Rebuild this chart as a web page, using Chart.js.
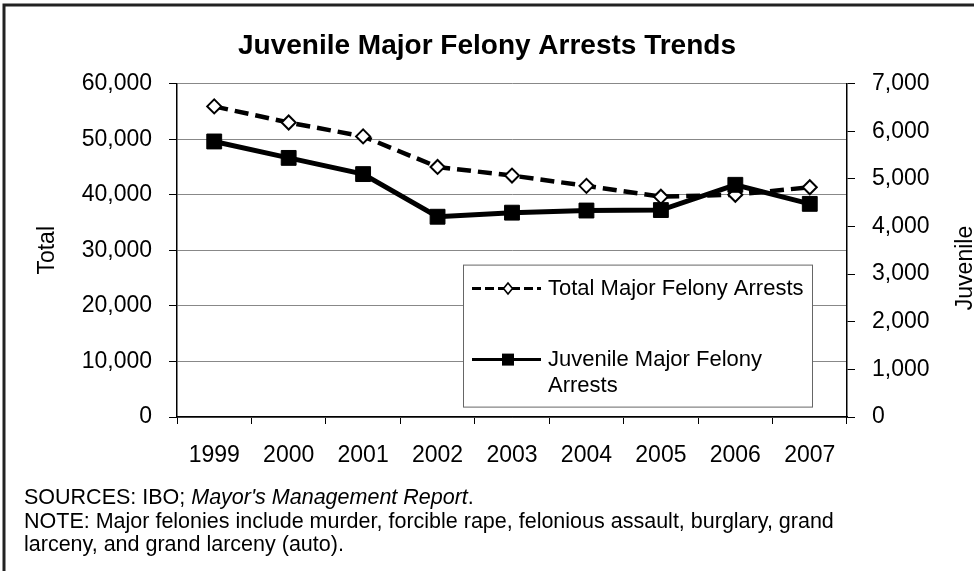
<!DOCTYPE html>
<html>
<head>
<meta charset="utf-8">
<script src="https://cdn.jsdelivr.net/npm/chart.js@4.4.0/dist/chart.umd.min.js"></script>
<style>
  html, body { margin: 0; padding: 0; background: #fff; }
  #wrap { width: 974px; height: 571px; position: relative; }
</style>
</head>
<body>
<div id="wrap"><canvas id="arrestsChart"></canvas></div>
<script>
const years = ["1999", "2000", "2001", "2002", "2003", "2004", "2005", "2006", "2007"];
const totalArrests = [55900, 53000, 50500, 45000, 43450, 41600, 39650, 40000, 41350];
const juvenileArrests = [5785, 5440, 5100, 4205, 4290, 4335, 4345, 4875, 4475];

const chartTitle = "Juvenile Major Felony Arrests Trends";
const totalLabel = "Total Major Felony Arrests";
const juvenileLabel = "Juvenile Major Felony Arrests";
const leftTitle = "Total";
const rightTitle = "Juvenile";
const sourceLine = ["SOURCES: IBO; ", "Mayor's Management Report", "."];
const noteLines = [
  "NOTE: Major felonies include murder, forcible rape, felonious assault, burglary, grand",
  "larceny, and grand larceny (auto).",
];

const FONT = "'Liberation Sans', Arial, sans-serif";
Chart.defaults.font.family = FONT;
Chart.defaults.color = "#000";

const fmt = (v) => Number(v).toLocaleString("en-US");

// white page + the frame lines on the top and left edge
const pageFrame = {
  id: "pageFrame",
  beforeDraw(chart) {
    const ctx = chart.ctx;
    ctx.save();
    ctx.fillStyle = "#fff";
    ctx.fillRect(0, 0, chart.width, chart.height);
    ctx.strokeStyle = "#222";
    ctx.lineWidth = 3;
    ctx.beginPath();
    ctx.moveTo(4, chart.height);
    ctx.lineTo(4, 5);
    ctx.lineTo(chart.width, 5);
    ctx.stroke();
    ctx.restore();
  },
};

function wrapWords(ctx, text, maxWidth) {
  const words = text.split(" ");
  const lines = [];
  let cur = "";
  words.forEach((w) => {
    const test = cur ? cur + " " + w : w;
    if (cur && ctx.measureText(test).width > maxWidth) {
      lines.push(cur);
      cur = w;
    } else {
      cur = test;
    }
  });
  if (cur) lines.push(cur);
  return lines;
}

// legend box sitting inside the plot, like the Excel original
const boxLegend = {
  id: "boxLegend",
  afterDraw(chart) {
    const ctx = chart.ctx;
    const area = chart.chartArea;
    const bx = area.left + 286, by = area.top + 181, bw = 349, bh = 142;
    ctx.save();
    ctx.fillStyle = "#fff";
    ctx.fillRect(bx, by, bw, bh);
    ctx.strokeStyle = "#666";
    ctx.lineWidth = 1;
    ctx.strokeRect(bx + 0.5, by + 0.5, bw, bh);

    const total = chart.data.datasets.find((d) => d.label === totalLabel);
    const juv = chart.data.datasets.find((d) => d.label === juvenileLabel);
    const rows = [
      { ds: total, y: by + 24, dash: [9, 4] },
      { ds: juv, y: by + 95, dash: [] },
    ];
    ctx.font = "22px " + FONT;
    rows.forEach((r) => {
      const lx = bx + 9, rx = bx + 78, mx = bx + 45;
      ctx.strokeStyle = r.ds.borderColor;
      ctx.lineWidth = 3;
      ctx.setLineDash(r.dash);
      ctx.beginPath();
      ctx.moveTo(lx, r.y);
      ctx.lineTo(rx, r.y);
      ctx.stroke();
      ctx.setLineDash([]);
      ctx.fillStyle = r.ds.pointBackgroundColor;
      ctx.strokeStyle = r.ds.pointBorderColor;
      if (r.ds.pointStyle === "rectRot") {
        ctx.lineWidth = 1.6;
        ctx.beginPath();
        ctx.moveTo(mx, r.y - 5.5);
        ctx.lineTo(mx + 4.5, r.y);
        ctx.lineTo(mx, r.y + 5.5);
        ctx.lineTo(mx - 4.5, r.y);
        ctx.closePath();
        ctx.fill();
        ctx.stroke();
      } else {
        ctx.fillRect(mx - 6, r.y - 6, 12, 12);
      }
      ctx.fillStyle = "#000";
      ctx.textAlign = "left";
      ctx.textBaseline = "middle";
      const lines = wrapWords(ctx, r.ds.label, 262);
      lines.forEach((t, i) => ctx.fillText(t, bx + 85, r.y + i * 26));
    });
    ctx.restore();
  },
};

// right axis title (reads bottom to top) and the source notes
const extraText = {
  id: "extraText",
  afterDraw(chart) {
    const ctx = chart.ctx;
    ctx.save();
    ctx.fillStyle = "#000";
    ctx.font = "23px " + FONT;
    ctx.translate(966, 268);
    ctx.rotate(-Math.PI / 2);
    ctx.textAlign = "center";
    ctx.textBaseline = "middle";
    ctx.fillText(rightTitle, 0, 0);
    ctx.restore();

    ctx.save();
    ctx.fillStyle = "#000";
    ctx.textAlign = "left";
    ctx.textBaseline = "middle";
    let x = 24;
    sourceLine.forEach((part, i) => {
      ctx.font = (i === 1 ? "italic " : "") + "21.5px " + FONT;
      ctx.fillText(part, x, 498);
      x += ctx.measureText(part).width;
    });
    ctx.font = "21.5px " + FONT;
    noteLines.forEach((t, i) => ctx.fillText(t, 24, 522 + i * 23.5));
    ctx.restore();
  },
};

new Chart(document.getElementById("arrestsChart"), {
  type: "line",
  data: {
    labels: years,
    datasets: [
      {
        label: totalLabel,
        data: totalArrests,
        yAxisID: "yTotal",
        order: 1,
        borderColor: "#000",
        borderWidth: 4.5,
        borderDash: [14, 7],
        pointStyle: "rectRot",
        pointRadius: 7,
        pointBackgroundColor: "#fff",
        pointBorderColor: "#000",
        pointBorderWidth: 2,
        tension: 0,
      },
      {
        label: juvenileLabel,
        data: juvenileArrests,
        yAxisID: "yJuv",
        order: 0,
        borderColor: "#000",
        borderWidth: 5,
        pointStyle: "rect",
        pointRadius: 10.5,
        pointBackgroundColor: "#000",
        pointBorderColor: "#000",
        pointBorderWidth: 1,
        tension: 0,
      },
    ],
  },
  options: {
    responsive: true,
    maintainAspectRatio: false,
    animation: false,
    layout: { padding: { left: 0, right: 0, top: 0, bottom: 0 } },
    plugins: {
      legend: { display: false },
      tooltip: { enabled: false },
      title: {
        display: true,
        text: chartTitle,
        font: { size: 28, weight: "bold" },
        color: "#000",
        padding: { top: 29, bottom: 21 },
      },
    },
    scales: {
      x: {
        type: "category",
        offset: true,
        afterFit: (s) => { s.height = 154; },
        grid: { offset: true, drawOnChartArea: false, tickLength: 7, color: "#000" },
        border: { color: "#000", width: 1.5 },
        ticks: { font: { size: 23 }, padding: 18, maxRotation: 0, autoSkip: false },
      },
      yTotal: {
        position: "left",
        min: 0,
        max: 60000,
        afterFit: (s) => { s.width = 177; },
        ticks: { stepSize: 10000, font: { size: 23 }, padding: 17, callback: fmt },
        grid: { color: "#888", tickColor: "#000", tickLength: 8 },
        border: { color: "#000", width: 1.5 },
        title: { display: true, text: leftTitle, font: { size: 23 }, padding: { top: 34, bottom: 0 } },
      },
      yJuv: {
        position: "right",
        min: 0,
        max: 7000,
        afterFit: (s) => { s.width = 127; },
        ticks: { stepSize: 1000, font: { size: 23 }, padding: 17, callback: fmt },
        grid: { drawOnChartArea: false, tickColor: "#000", tickLength: 8 },
        border: { color: "#000", width: 1.5 },
      },
    },
  },
  plugins: [pageFrame, boxLegend, extraText],
});
</script>
</body>
</html>
